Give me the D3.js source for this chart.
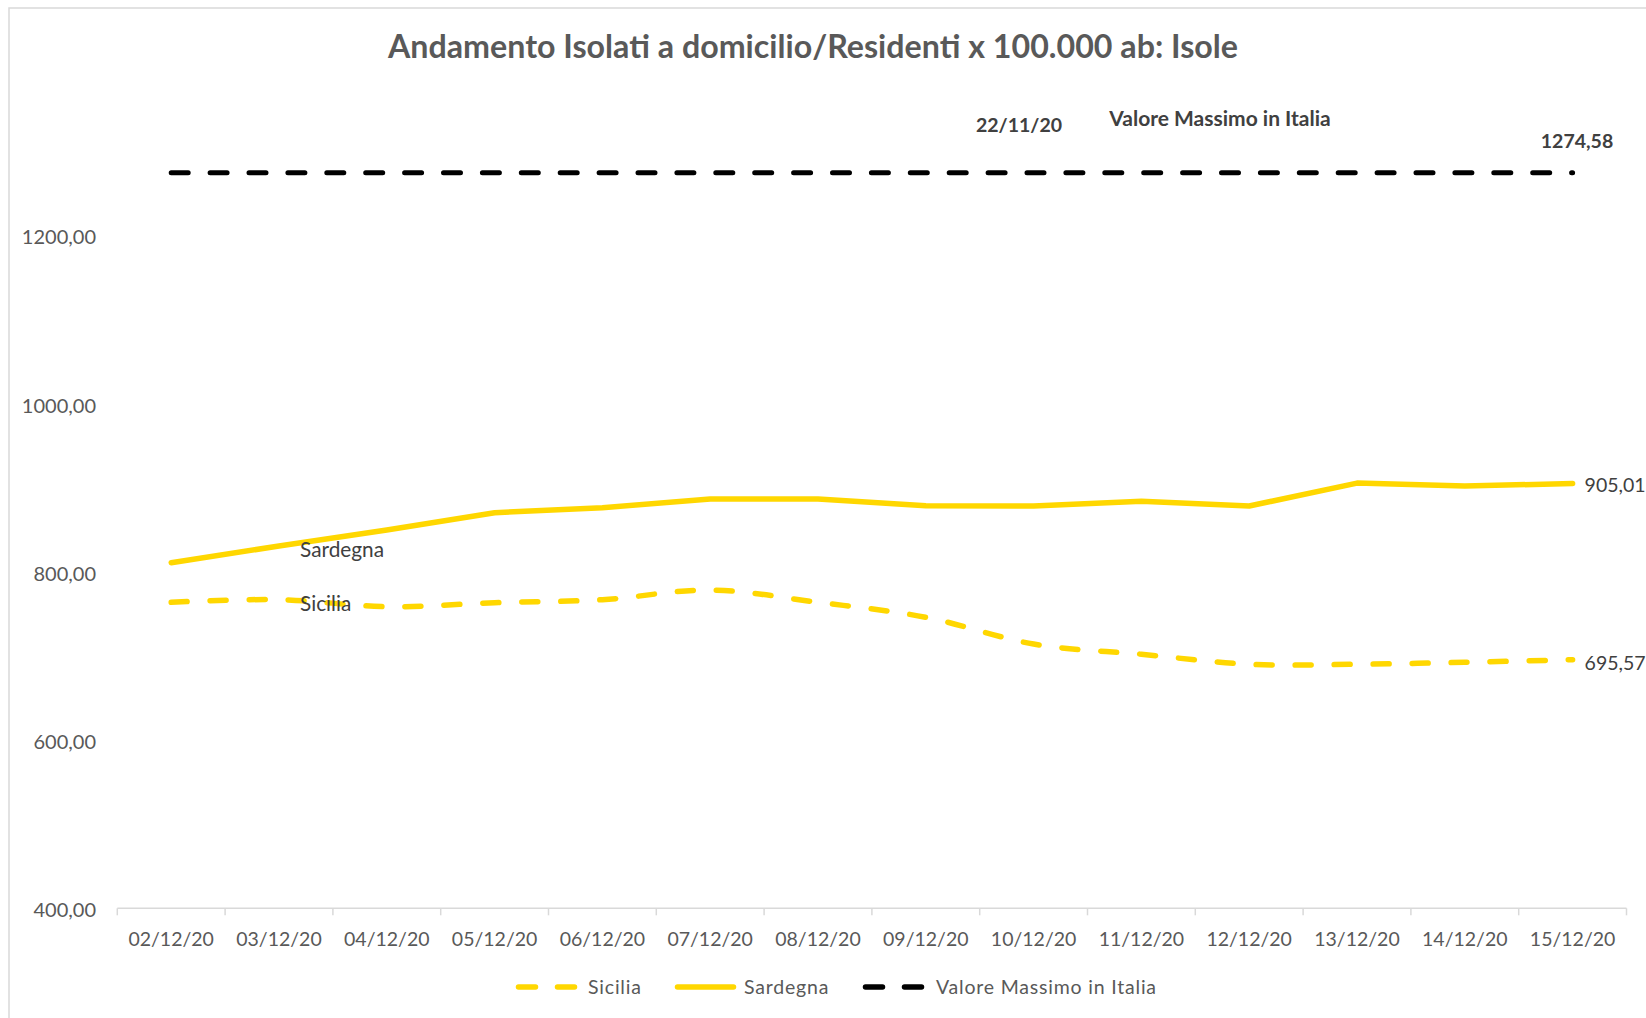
<!DOCTYPE html>
<html>
<head>
<meta charset="utf-8">
<script src="https://cdn.jsdelivr.net/npm/d3@7"></script>
<style>
  body { margin: 0; background: #fff; }
  svg { display: block; font-family: Lato, "Open Sans", sans-serif; }
</style>
</head>
<body>
<svg id="chart" width="1646" height="1018"></svg>
<script>
const dates = ['02/12/20', '03/12/20', '04/12/20', '05/12/20', '06/12/20', '07/12/20', '08/12/20',
  '09/12/20', '10/12/20', '11/12/20', '12/12/20', '13/12/20', '14/12/20', '15/12/20'];
const sicilia = [763.8, 767.0, 758.6, 763.3, 766.9, 778.4, 763.8, 746.0, 714.2, 702.0, 690.1, 690.1, 692.5, 695.57];
const sardegna = [810.9, 830.7, 849.8, 870.3, 876.3, 886.6, 886.6, 878.7, 878.3, 883.9, 878.3, 905.5, 902.1, 905.01];
const maxItalia = dates.map(() => 1274.58);
const yTicks = [400, 600, 800, 1000, 1200];

const yellow = '#FFD700';
const svg = d3.select('#chart');

// chart frame
svg.append('rect')
  .attr('x', 9).attr('y', 8).attr('width', 1700).attr('height', 1100)
  .attr('fill', 'none').attr('stroke', '#D9D9D9').attr('stroke-width', 1.5);

const xScale = d3.scaleBand().domain(dates).range([117.3, 1626.5]);
const yScale = d3.scaleLinear().domain([400, 1400]).range([908.3, 67.2]);
const cx = (d) => xScale(d) + xScale.bandwidth() / 2;
const fmt = (v) => d3.format('.2f')(v).replace('.', ',');

svg.append('text')
  .attr('x', 813).attr('y', 58)
  .attr('text-anchor', 'middle')
  .attr('font-size', 32.2).attr('font-weight', 'bold')
  .attr('fill', '#595959')
  .text('Andamento Isolati a domicilio/Residenti x 100.000 ab: Isole');

// y axis labels (no axis line)
svg.append('g')
  .selectAll('text')
  .data(yTicks)
  .join('text')
  .attr('x', 96)
  .attr('y', (d) => yScale(d) + 2)
  .attr('dy', '0.35em')
  .attr('text-anchor', 'end')
  .attr('font-size', 20)
  .attr('fill', '#595959')
  .text(fmt);

// x axis
const axisY = yScale(400);
const xAxis = svg.append('g');
xAxis.append('line')
  .attr('x1', 117.3).attr('x2', 1626.5)
  .attr('y1', axisY).attr('y2', axisY)
  .attr('stroke', '#D9D9D9').attr('stroke-width', 1.5);
const bounds = dates.map((d) => xScale(d)).concat([xScale.range()[1]]);
xAxis.selectAll('line.tick')
  .data(bounds)
  .join('line')
  .attr('class', 'tick')
  .attr('x1', (d) => d).attr('x2', (d) => d)
  .attr('y1', axisY).attr('y2', axisY + 7)
  .attr('stroke', '#D9D9D9').attr('stroke-width', 1.5);
xAxis.selectAll('text')
  .data(dates)
  .join('text')
  .attr('x', cx)
  .attr('y', axisY + 31)
  .attr('dy', '0.35em')
  .attr('text-anchor', 'middle')
  .attr('font-size', 19.5)
  .attr('fill', '#595959')
  .text((d) => d);

const straight = d3.line().x((d, i) => cx(dates[i])).y((d) => yScale(d));
const smooth = d3.line().x((d, i) => cx(dates[i])).y((d) => yScale(d)).curve(d3.curveCatmullRom.alpha(0));

svg.append('path')
  .attr('d', straight(maxItalia))
  .attr('fill', 'none').attr('stroke', '#000').attr('stroke-width', 5)
  .attr('stroke-linecap', 'round').attr('stroke-dasharray', '17,21.9');

svg.append('path')
  .attr('d', smooth(sicilia))
  .attr('fill', 'none').attr('stroke', yellow).attr('stroke-width', 5.5)
  .attr('stroke-linecap', 'round').attr('stroke-dasharray', '16,23');

svg.append('path')
  .attr('d', straight(sardegna))
  .attr('fill', 'none').attr('stroke', yellow).attr('stroke-width', 5.5)
  .attr('stroke-linecap', 'round').attr('stroke-linejoin', 'round');

// data labels
const last = dates.length - 1;
const labels = svg.append('g').attr('font-size', 19.5).attr('fill', '#404040');
labels.append('text')
  .attr('x', cx(dates[last]) + 12).attr('y', yScale(sardegna[last]) + 2).attr('dy', '0.35em')
  .text(fmt(sardegna[last]));
labels.append('text')
  .attr('x', cx(dates[last]) + 12).attr('y', yScale(sicilia[last]) + 3).attr('dy', '0.35em')
  .text(fmt(sicilia[last]));
labels.append('text')
  .attr('x', cx(dates[1]) + 21).attr('y', yScale(sardegna[1]) + 4).attr('dy', '0.35em')
  .attr('font-size', 20.8)
  .text('Sardegna');
labels.append('text')
  .attr('x', cx(dates[1]) + 21).attr('y', yScale(sicilia[1]) + 4).attr('dy', '0.35em')
  .attr('font-size', 20.8)
  .text('Sicilia');

const notes = svg.append('g').attr('font-size', 19.5).attr('font-weight', 'bold').attr('fill', '#404040');
notes.append('text')
  .attr('x', 1019).attr('y', yScale(maxItalia[0]) - 48).attr('dy', '0.35em')
  .attr('text-anchor', 'middle')
  .text('22/11/20');
notes.append('text')
  .attr('x', 1220).attr('y', yScale(maxItalia[0]) - 54).attr('dy', '0.35em')
  .attr('text-anchor', 'middle')
  .attr('font-size', 21)
  .text('Valore Massimo in Italia');
notes.append('text')
  .attr('x', 1577).attr('y', yScale(maxItalia[0]) - 32).attr('dy', '0.35em')
  .attr('text-anchor', 'middle')
  .text(fmt(maxItalia[0]));

// legend
const legendItems = [
  { name: 'Sicilia', color: yellow, dash: '17,22', x: 516, tx: 72 },
  { name: 'Sardegna', color: yellow, dash: null, x: 675, tx: 69 },
  { name: 'Valore Massimo in Italia', color: '#000', dash: '17,22', x: 863, tx: 73 },
];
const legend = svg.append('g');
legendItems.forEach((d) => {
  const g = legend.append('g').attr('transform', `translate(${d.x},987)`);
  g.append('line')
    .attr('x1', 2.5).attr('x2', 58.5).attr('y1', 0).attr('y2', 0)
    .attr('stroke', d.color).attr('stroke-width', 5.5)
    .attr('stroke-linecap', 'round')
    .attr('stroke-dasharray', d.dash);
  g.append('text')
    .attr('x', d.tx).attr('y', 0).attr('dy', '0.35em')
    .attr('font-size', 19.5).attr('fill', '#595959')
    .attr('letter-spacing', 0.8)
    .text(d.name);
});
</script>
</body>
</html>
